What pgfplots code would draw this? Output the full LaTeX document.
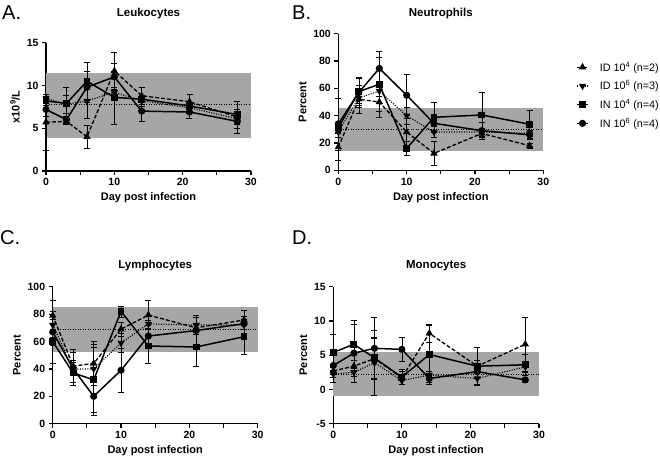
\documentclass[border=0pt]{standalone}
\usepackage{fontspec}
\setmainfont{Liberation Sans}
\usepackage{pgfplots}
\pgfplotsset{compat=1.18}

\pgfplotsset{
  panel/.style={
    scale only axis, clip=false,
    axis x line*=bottom, axis y line*=left,
    axis line style={line width=1.4pt, -},
    xmin=0, xmax=30, xtick={0,10,20,30}, minor xtick={5,15,25},
    tick align=outside, major tick length=4pt, minor tick length=4pt,
    tick style={black, line width=1.2pt},
    /pgf/number format/assume math mode=true,
    ticklabel style={font=\bfseries\fontsize{10.5}{12}\selectfont},
    label style={font=\bfseries\fontsize{11}{13}\selectfont},
    title style={font=\bfseries\fontsize{11.5}{13}\selectfont, at={(0.5,1)}, anchor=center},
    xlabel={Day post infection},
  },
  errs/.style={
    error bars/y dir=both, error bars/y explicit,
    error bars/error bar style={solid, line width=0.6pt},
    error bars/error mark options={solid, rotate=90, mark size=3pt, line width=0.6pt},
  },
  id4/.style={black, line width=1.3pt, dash pattern=on 4pt off 2pt,
    mark=triangle*, mark size=3pt, mark options={solid}, errs},
  id6/.style={black, line width=1.2pt, dash pattern=on 1pt off 1.5pt,
    mark=triangle*, mark size=3pt, mark options={solid, rotate=180}, errs},
  in4/.style={black, line width=1.5pt, mark=square*, mark size=2.7pt, mark options={solid}, errs},
  in6/.style={black, line width=1.5pt, mark=*, mark size=2.8pt, mark options={solid}, errs},
  band/.style={draw=none, fill=gray!70, forget plot},
  refl/.style={black, line width=0.9pt, dash pattern=on 1pt off 1.5pt, forget plot},
}

\begin{document}
\begin{tikzpicture}
\useasboundingbox (0,0) rectangle (660pt,458pt);

% A. Leukocytes
\begin{axis}[panel, at={(46pt,287pt)}, anchor=south west,
  width=205pt, height=128.3pt,
  ymin=0, ymax=15, ytick={0,5,10,15},
  ylabel={x10\textsuperscript{9}/L},
  title={Leukocytes}, title style={yshift=22.7pt}]
\addplot[band] coordinates {(0,3.9) (30,3.9) (30,11.5) (0,11.5)} -- cycle;
\addplot[refl] coordinates {(0,7.8) (30,7.8)};
\addplot[id4] coordinates {(0,5.7) +- (0,3.3) (3,5.8) +- (0,0.3) (6,4.0) +- (0,1.4)
  (10,11.7) +- (0,2.2) (14,8.8) +- (0,1.0) (21,8.1) +- (0,0.9) (28,6.3) +- (0,0.5)};
\addplot[id6] coordinates {(0,8.5) +- (0,0.5) (3,7.8) +- (0,1.0) (6,8.2) +- (0,2.0)
  (10,9.2) +- (0,0.6) (14,8.2) +- (0,0.6) (21,7.4) +- (0,0.6) (28,6.1) +- (0,0.6)};
\addplot[in4] coordinates {(0,8.2) +- (0,0.5) (3,7.9) +- (0,1.9) (6,10.5) +- (0,2.2)
  (10,8.6) +- (0,3.1) (14,8.4) +- (0,1.4) (21,7.6) +- (0,1.4) (28,6.6) +- (0,1.6)};
\addplot[in6] coordinates {(0,7.2) +- (0,0.8) (3,6.0) +- (0,0.4) (6,9.8) +- (0,1.8)
  (10,11.0) +- (0,1.6) (14,7.0) +- (0,1.2) (21,6.9) +- (0,0.7) (28,5.8) +- (0,1.4)};
\end{axis}

% B. Neutrophils
\begin{axis}[panel, at={(338.3pt,287.7pt)}, anchor=south west,
  width=205pt, height=136.6pt,
  ymin=0, ymax=100, ytick={0,20,40,60,80,100},
  ylabel={Percent},
  title={Neutrophils}, title style={yshift=13.7pt},
  legend style={at={(1.16,0.81)}, anchor=north west, draw=none, fill=none,
    font=\fontsize{10.8}{13}\selectfont, row sep=4pt, inner sep=0pt},
  legend cell align=left,
  legend image code/.code={\draw[mark repeat=2,mark phase=2] plot coordinates {(0pt,0pt) (5.5pt,0pt) (11pt,0pt)}; \path (20pt,0pt);}]
\addplot[band] coordinates {(0,14.1) (30,14.1) (30,45.8) (0,45.8)} -- cycle;
\addplot[refl] coordinates {(0,30) (30,30)};
\addplot[id4] coordinates {(0,17) +- (0,10) (3,52) +- (0,10) (6,50) +- (0,11)
  (10,28) +- (0,10) (14,12.4) +- (0,8.5) (21,27) +- (0,4) (28,18) +- (0,2)};
\addlegendentry{ID 10\textsuperscript{4} (n=2)}
\addplot[id6] coordinates {(0,28) +- (0,4) (3,53) +- (0,4) (6,58) +- (0,4)
  (10,40) +- (0,6) (14,28) +- (0,4) (21,28) +- (0,3) (28,27) +- (0,2)};
\addlegendentry{ID 10\textsuperscript{6} (n=3)}
\addplot[in4] coordinates {(0,31) +- (0,3) (3,57.6) +- (0,10) (6,63) +- (0,20)
  (10,16) +- (0,5) (14,38.8) +- (0,11) (21,40.5) +- (0,16.5) (28,33.7) +- (0,10)};
\addlegendentry{IN 10\textsuperscript{4} (n=4)}
\addplot[in6] coordinates {(0,34) +- (0,19) (3,57) +- (0,11) (6,74.6) +- (0,12.5)
  (10,55) +- (0,15) (14,34.4) +- (0,6) (21,29) +- (0,6) (28,26) +- (0,3)};
\addlegendentry{IN 10\textsuperscript{6} (n=4)}
\end{axis}

% C. Lymphocytes
\begin{axis}[panel, at={(52.7pt,34.3pt)}, anchor=south west,
  width=205pt, height=137pt,
  ymin=0, ymax=100, ytick={0,20,40,60,80,100},
  ylabel={Percent},
  title={Lymphocytes}, title style={yshift=15pt}]
\addplot[band] coordinates {(0,52.5) (30,52.5) (30,85.4) (0,85.4)} -- cycle;
\addplot[refl] coordinates {(0,68.8) (30,68.8)};
\addplot[id4] coordinates {(0,79) +- (0,3) (3,42) +- (0,12) (6,44) +- (0,16)
  (10,69) +- (0,5) (14,79.3) +- (0,10.5) (21,70) +- (0,3) (28,75.7) +- (0,3)};
\addplot[id6] coordinates {(0,72) +- (0,4) (3,40) +- (0,5) (6,40) +- (0,18)
  (10,59) +- (0,7) (14,72.8) +- (0,3) (21,72) +- (0,7) (28,72) +- (0,3)};
\addplot[in4] coordinates {(0,60) +- (0,3) (3,37) +- (0,9) (6,32) +- (0,24)
  (10,82) +- (0,4) (14,56.7) +- (0,12.5) (21,56) +- (0,14) (28,63.5) +- (0,12.5)};
\addplot[in6] coordinates {(0,67) +- (0,23) (3,40) +- (0,12) (6,20) +- (0,14)
  (10,39) +- (0,16) (14,64) +- (0,8) (21,68) +- (0,10) (28,73) +- (0,10)};
\end{axis}

% D. Monocytes
\begin{axis}[panel, at={(333.3pt,34.3pt)}, anchor=south west,
  width=205.7pt, height=137pt,
  ymin=-5, ymax=15, ytick={-5,0,5,10,15},
  ylabel={Percent},
  title={Monocytes}, title style={yshift=15pt}]
\addplot[band] coordinates {(0,-1) (30,-1) (30,5.4) (0,5.4)} -- cycle;
\addplot[refl] coordinates {(0,2.2) (30,2.2)};
\addplot[id4] coordinates {(0,2.7) +- (0,0.5) (3,3.4) +- (0,0.8) (6,4.5) +- (0,3)
  (10,1.7) +- (0,0.9) (14,8.2) +- (0,1.3) (21,3.4) +- (0,0.8) (28,6.6) +- (0,4.0)};
\addplot[id6] coordinates {(0,2.25) +- (0,0.5) (3,2.5) +- (0,0.6) (6,3.9) +- (0,4.7)
  (10,1.3) +- (0,0.5) (14,2.1) +- (0,0.6) (21,1.6) +- (0,0.8) (28,3.3) +- (0,0.8)};
\addplot[in4] coordinates {(0,5.4) +- (0,2.7) (3,6.6) +- (0,3.5) (6,4.6) +- (0,3)
  (10,1.8) +- (0,1.1) (14,5.1) +- (0,4.3) (21,3.4) +- (0,2.8) (28,3.6) +- (0,1.5)};
\addplot[in6] coordinates {(0,3.5) +- (0,2.4) (3,5.3) +- (0,4.2) (6,6.0) +- (0,4.5)
  (10,5.85) +- (0,1.7) (14,1.6) +- (0,0.5) (21,2.6) +- (0,1) (28,1.4) +- (0,0.3)};
\end{axis}

\node[anchor=base west, inner sep=0, font=\fontsize{20}{24}\selectfont] at (2pt,438.5pt) {A.};
\node[anchor=base west, inner sep=0, font=\fontsize{20}{24}\selectfont] at (292pt,438.5pt) {B.};
\node[anchor=base west, inner sep=0, font=\fontsize{20}{24}\selectfont] at (0pt,214pt) {C.};
\node[anchor=base west, inner sep=0, font=\fontsize{20}{24}\selectfont] at (292pt,214pt) {D.};
\end{tikzpicture}
\end{document}
